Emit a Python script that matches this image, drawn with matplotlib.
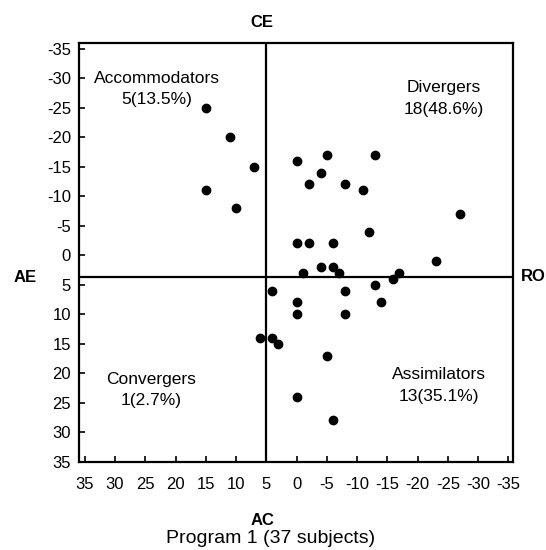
import matplotlib
matplotlib.use("Agg")
import matplotlib.pyplot as plt

plt.rcParams['font.family'] = ['Liberation Sans', 'DejaVu Sans']
plt.rcParams['axes.unicode_minus'] = False

# AC-CE (x) and AE-RO (y) scores, grouped by quadrant
accom_x = [15, 11, 7, 15, 10]
accom_y = [-25, -20, -15, -11, -8]
diverg_x = [0, -5, -13, -4, -2, -8, -11, -27, -12, 0, -2, -6, -23, -4, -6, -1, -7, -17]
diverg_y = [-16, -17, -17, -14, -12, -12, -11, -7, -4, -2, -2, -2, 1, 2, 2, 3, 3, 3]
assim_x = [-16, -13, 4, -8, -14, 0, 0, -8, 4, 3, -5, 0, -6]
assim_y = [4, 5, 6, 6, 8, 8, 10, 10, 14, 15, 17, 24, 28]
conv_x = [6]
conv_y = [14]

ticks = list(range(-35, 40, 5))
quad_names = ["Accommodators", "Divergers", "Convergers", "Assimilators"]
quad_counts = ["5(13.5%)", "18(48.6%)", "1(2.7%)", "13(35.1%)"]
cross_x = 5.1
cross_y = 3.7

fig = plt.figure(figsize=(5.46, 5.5), dpi=100)
ax = fig.add_axes([0.1452, 0.1605, 0.7949, 0.7618])

for xs, ys in [(accom_x, accom_y), (diverg_x, diverg_y), (assim_x, assim_y), (conv_x, conv_y)]:
    ax.plot(xs, ys, 'o', color='black', ms=6, zorder=3)

ax.axvline(cross_x, color='black', lw=1.6)
ax.axhline(cross_y, color='black', lw=1.6)

ax.set_xlim(35.9, -35.8)
ax.set_ylim(35, -36)
ax.set_xticks(ticks)
ax.set_yticks(ticks)
ax.tick_params(axis='both', direction='in', length=4, width=1.2, labelsize=12)
ax.tick_params(axis='y', pad=6)
ax.tick_params(axis='x', pad=11)
for sp in ax.spines.values():
    sp.set_linewidth(1.6)

# quadrant labels
quad_pos = [(23.1, -30.0), (-24.3, -28.4), (24.1, 21.0), (-23.5, 20.3)]
for name, count, (px, py) in zip(quad_names, quad_counts, quad_pos):
    ax.text(px, py, name, ha='center', va='center', fontsize=12.5)
    ax.text(px, py + 3.7, count, ha='center', va='center', fontsize=12.5)

# pole labels
fig.text(0.480, 0.9515, "CE", ha='center', va='baseline', fontsize=12, weight='bold')
fig.text(0.4808, 0.0455, "AC", ha='center', va='baseline', fontsize=12, weight='bold')
fig.text(0.0458, 0.4878, "AE", ha='center', va='baseline', fontsize=12, weight='bold')
fig.text(0.9537, 0.4896, "RO", ha='left', va='baseline', fontsize=12, weight='bold')
fig.text(0.496, 0.0133, "Program 1 (37 subjects)", ha='center', va='baseline', fontsize=14)

fig.savefig("out.png", dpi=100)
